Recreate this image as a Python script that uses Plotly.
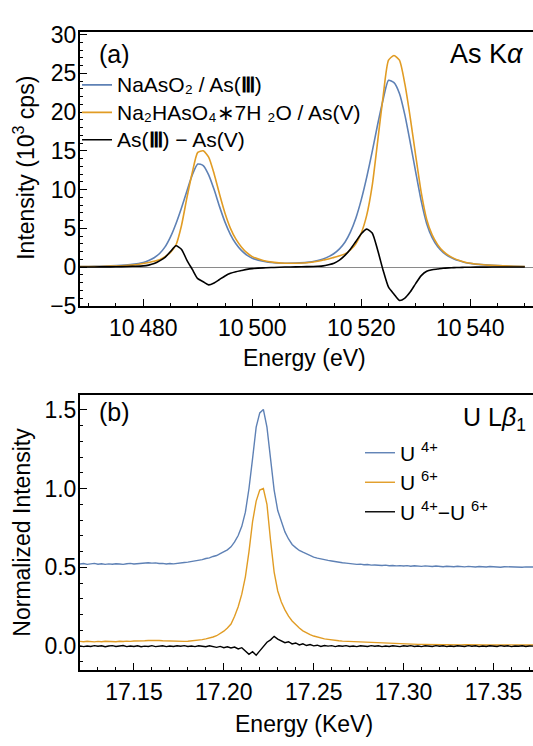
import numpy as np
import plotly.graph_objects as go

# ---------------- Panel (a): As K-alpha ----------------
energy_a = [10468, 10470, 10472, 10474, 10476, 10478,
            10480, 10481, 10482, 10483, 10484, 10485, 10486, 10487, 10488, 10489,
            10490, 10491, 10492, 10493, 10494, 10495, 10496, 10497, 10498, 10499, 10500,
            10502, 10504, 10506, 10508, 10510, 10512,
            10513, 10514, 10515, 10516, 10517, 10518, 10519, 10520, 10521, 10522, 10523,
            10524, 10525, 10526, 10527, 10528, 10529, 10530, 10531, 10532, 10533, 10534,
            10535, 10536, 10537, 10538, 10539, 10540,
            10542, 10544, 10546, 10548, 10550]

as3 = [0.05, 0.08, 0.10, 0.15, 0.22, 0.35,
       0.60, 0.85, 1.20, 1.75, 2.60, 3.90, 5.60, 7.60, 9.80, 11.90,
       13.30, 13.10, 11.90, 10.00, 7.80, 5.80, 4.20, 3.00, 2.15, 1.55, 1.15,
       0.75, 0.55, 0.50, 0.52, 0.60, 0.85,
       1.05, 1.35, 1.75, 2.35, 3.20, 4.50, 6.30, 8.70, 11.60, 14.90, 18.40,
       21.60, 24.10, 23.80, 22.40, 19.60, 16.00, 12.20, 8.50, 5.60, 3.80, 2.65,
       1.90, 1.40, 1.05, 0.80, 0.60, 0.48,
       0.32, 0.22, 0.15, 0.10, 0.07]

as5 = [0.05, 0.08, 0.08, 0.12, 0.17, 0.25,
       0.45, 0.60, 0.75, 0.95, 1.35, 1.90, 2.85, 5.30, 8.90, 12.20,
       14.80, 15.00, 14.20, 12.05, 9.40, 6.95, 5.00, 3.60, 2.60, 1.85, 1.35,
       0.85, 0.60, 0.50, 0.50, 0.55, 0.75,
       0.90, 1.05, 1.25, 1.45, 1.70, 2.20, 3.00, 4.40, 6.70, 10.50, 16.20,
       22.00, 26.70, 27.30, 26.70, 23.60, 19.20, 14.30, 9.60, 6.15, 4.15, 2.90,
       2.05, 1.50, 1.12, 0.85, 0.63, 0.50,
       0.33, 0.22, 0.15, 0.10, 0.07]

as_diff = [0.00, 0.00, 0.02, 0.03, 0.05, 0.10,
           0.15, 0.25, 0.45, 0.80, 1.25, 2.00, 2.75, 2.30, 0.90, -0.30,
           -1.50, -1.90, -2.30, -2.05, -1.60, -1.15, -0.80, -0.60, -0.45, -0.30, -0.20,
           -0.10, -0.05, 0.00, 0.02, 0.05, 0.10,
           0.15, 0.30, 0.50, 0.90, 1.50, 2.30, 3.30, 4.30, 4.90, 4.40, 2.20,
           -0.40, -2.60, -3.50, -4.30, -4.00, -3.20, -2.10, -1.10, -0.55, -0.35, -0.25,
           -0.15, -0.10, -0.07, -0.05, -0.03, -0.02,
           -0.01, 0.00, 0.00, 0.00, 0.00]

# ---------------- Panel (b): U L-beta1 ----------------
E_START_B, E_STEP_B = 17.120, 0.002

u4 = [0.521, 0.524, 0.519, 0.523, 0.525, 0.520, 0.523, 0.519, 0.522, 0.520,
      0.523, 0.521, 0.519, 0.523, 0.525, 0.521, 0.524, 0.527, 0.526, 0.529,
      0.527, 0.528, 0.524, 0.525, 0.521, 0.524, 0.522, 0.526, 0.527, 0.531,
      0.533, 0.536, 0.540, 0.545, 0.549, 0.556, 0.560, 0.569, 0.575, 0.587,
      0.597, 0.611, 0.630, 0.661, 0.702, 0.760, 0.850, 1.000, 1.190, 1.390,
      1.480, 1.502, 1.390, 1.170, 0.990, 0.860, 0.790, 0.725, 0.680, 0.645,
      0.625, 0.607, 0.596, 0.584, 0.576, 0.565, 0.558, 0.552, 0.549, 0.544,
      0.540, 0.535, 0.533, 0.529, 0.527, 0.523, 0.522, 0.519, 0.520, 0.516,
      0.518, 0.514, 0.515, 0.513, 0.512, 0.514, 0.510, 0.512, 0.509, 0.511,
      0.508, 0.511, 0.507, 0.510, 0.508, 0.506, 0.509, 0.507, 0.505, 0.508,
      0.506, 0.504, 0.507, 0.505, 0.504, 0.507, 0.504, 0.503, 0.506, 0.504,
      0.502, 0.505, 0.503, 0.502, 0.505, 0.503, 0.504, 0.501, 0.504, 0.503,
      0.501, 0.504, 0.502, 0.501, 0.503, 0.504, 0.502]

u6 = [0.030, 0.028, 0.031, 0.029, 0.027, 0.030, 0.028, 0.031, 0.029, 0.030,
      0.028, 0.031, 0.029, 0.032, 0.030, 0.033, 0.032, 0.035, 0.034, 0.036,
      0.037, 0.035, 0.036, 0.034, 0.033, 0.031, 0.030, 0.029, 0.031, 0.030,
      0.031, 0.033, 0.035, 0.038, 0.041, 0.046, 0.051, 0.058, 0.066, 0.078,
      0.095, 0.115, 0.140, 0.190, 0.250, 0.330, 0.440, 0.600, 0.790, 0.920,
      0.990, 1.000, 0.900, 0.670, 0.470, 0.350, 0.280, 0.230, 0.190, 0.160,
      0.135, 0.115, 0.097, 0.083, 0.073, 0.064, 0.057, 0.051, 0.046, 0.043,
      0.039, 0.037, 0.034, 0.032, 0.031, 0.028, 0.027, 0.025, 0.024, 0.022,
      0.021, 0.020, 0.019, 0.018, 0.017, 0.016, 0.016, 0.015, 0.014, 0.014,
      0.013, 0.013, 0.012, 0.012, 0.011, 0.011, 0.010, 0.010, 0.010, 0.009,
      0.010, 0.009, 0.009, 0.008, 0.009, 0.008, 0.008, 0.009, 0.008, 0.008,
      0.007, 0.008, 0.008, 0.007, 0.008, 0.007, 0.008, 0.007, 0.007, 0.008,
      0.007, 0.007, 0.008, 0.007, 0.007, 0.008, 0.007]

u_diff = [0.002, -0.003, 0.001, -0.002, 0.003, -0.001, 0.002, -0.004, 0.001, 0.003,
          -0.002, 0.000, 0.004, -0.003, 0.001, -0.002, 0.002, -0.004, 0.000, -0.002,
          0.003, -0.003, -0.001, 0.002, -0.003, 0.001, -0.002, 0.002, -0.001, 0.003,
          -0.002, 0.001, -0.003, 0.002, -0.001, -0.004, 0.002, -0.003, -0.008, -0.002,
          -0.010, -0.004, -0.012, -0.006, -0.018, -0.010, -0.030, -0.052, -0.035, -0.058,
          -0.030, -0.005, 0.025, 0.040, 0.062, 0.045, 0.036, 0.022, 0.028, 0.014,
          0.020, 0.008, 0.015, 0.004, 0.010, 0.002, 0.006, -0.002, 0.004, 0.000,
          0.003, -0.003, 0.002, -0.001, 0.003, -0.002, 0.001, -0.003, 0.002, 0.000,
          -0.002, 0.003, -0.001, 0.002, -0.003, 0.001, -0.002, 0.002, 0.000, -0.003,
          0.002, -0.001, 0.003, -0.002, 0.001, -0.003, 0.002, 0.000, -0.002, 0.003,
          -0.001, 0.002, -0.003, 0.001, -0.002, 0.002, 0.000, -0.002, 0.003, -0.001,
          0.002, -0.003, 0.001, -0.002, 0.002, 0.000, -0.002, 0.003, -0.001, 0.002,
          -0.003, 0.001, -0.001, 0.002, -0.002, 0.001, 0.000]

energy_b = np.round(E_START_B + E_STEP_B * np.arange(len(u4)), 3)

names_a = ["NaAsO₂ / As(<b>Ⅲ</b>)", "Na₂HAsO₄∗7H ₂O / As(V)", "As(<b>Ⅲ</b>) − As(V)"]
names_b = ["U <sup>4+</sup>", "U <sup>6+</sup>", "U <sup>4+</sup>−U <sup>6+</sup>"]

BLUE = "#5E81B5"
ORANGE = "#E19C24"
BLACK = "#000000"
FONT = "Liberation Sans"

def big(t):
    return "<span style='font-size:21px'>" + t + "</span>"

fig = go.Figure()

spl = dict(shape="spline", smoothing=0.6, width=1.6)
for ys, col, nm in zip([as3, as5, as_diff], [BLUE, ORANGE, BLACK], names_a):
    fig.add_trace(go.Scatter(x=energy_a, y=ys, mode="lines", line=dict(color=col, **spl),
                             name=big(nm), xaxis="x", yaxis="y", legend="legend"))
for ys, col, nm in zip([u4, u6, u_diff], [BLUE, ORANGE, BLACK], names_b):
    fig.add_trace(go.Scatter(x=energy_b, y=ys, mode="lines", line=dict(color=col, width=1.4),
                             name=big(nm), xaxis="x2", yaxis="y2", legend="legend2"))

W, H = 533, 746
L = 80

def py(sy):          # screen y -> paper y
    return 1 - sy / H

def px_(sx):         # screen x -> paper x
    return (sx - L) / (W - L)

axis_common = dict(showline=True, linewidth=2, linecolor="black", ticks="inside",
                   tickcolor="black", tickwidth=1, ticklen=7, showgrid=False,
                   tickfont=dict(family=FONT, size=23, color="black"))

fig.update_layout(
    width=W, height=H,
    margin=dict(l=L, r=0, t=0, b=0),
    paper_bgcolor="white", plot_bgcolor="white",
    separators=".\u2009",
    font=dict(family=FONT, color="black"),
    xaxis=dict(domain=[0, 1], anchor="y", range=[10468.4, 10551.5], dtick=20, tick0=10480,
               tickformat=",d", mirror=True,
               minor=dict(ticks="inside", ticklen=3, dtick=5, tick0=10480, tickcolor="black"),
               **axis_common),
    yaxis=dict(domain=[py(305), py(22)], anchor="x", range=[-5.05, 30.3], dtick=5, tick0=0,
               zeroline=True, zerolinecolor="#8a8a8a", zerolinewidth=1, ticklabelstandoff=-3,
               minor=dict(ticks="inside", ticklen=3, dtick=1, tick0=0, tickcolor="black"),
               **axis_common),
    xaxis2=dict(domain=[0, 1], anchor="y2", range=[17.12, 17.372], dtick=0.05, tick0=17.15,
                tickformat=".2f", mirror=True,
                minor=dict(ticks="inside", ticklen=3, dtick=0.01, tick0=17.15, tickcolor="black"),
                **axis_common),
    yaxis2=dict(domain=[py(681), py(397)], anchor="x2", range=[-0.152, 1.592], dtick=0.5, tick0=0,
                tickformat=".1f", zeroline=False, ticklabelstandoff=-3,
                minor=dict(ticks="inside", ticklen=3, dtick=0.1, tick0=0, tickcolor="black"),
                **axis_common),
    # legend font sizes set the row pitch; the visible text size comes from the span
    legend=dict(x=px_(77), y=py(57), xanchor="left", yanchor="top", bgcolor="rgba(0,0,0,0)",
                font=dict(family=FONT, size=18.8, color="black"), tracegroupgap=0, itemwidth=30),
    legend2=dict(x=px_(360), y=py(436), xanchor="left", yanchor="top", bgcolor="rgba(0,0,0,0)",
                 font=dict(family=FONT, size=20.4, color="black"), tracegroupgap=0, itemwidth=30),
    showlegend=True,
)

annotations = [
    dict(text="(a)", x=px_(97), y=py(44), xanchor="left", yanchor="middle", font=dict(size=25)),
    dict(text="As K<i>α</i>", x=px_(526), y=py(44), xanchor="right", yanchor="middle", font=dict(size=27)),
    dict(text="(b)", x=px_(97), y=py(414), xanchor="left", yanchor="middle", font=dict(size=25)),
    dict(text="U L<i>β</i><sub>1</sub>", x=px_(528), y=py(422), xanchor="right", yanchor="middle", font=dict(size=25)),
    dict(text="Intensity (10<sup>3</sup> cps)", x=px_(24), y=py(162), xanchor="center", yanchor="middle",
         textangle=-90, font=dict(size=23)),
    dict(text="Normalized Intensity", x=px_(22), y=py(539), xanchor="center", yanchor="middle",
         textangle=-90, font=dict(size=23)),
    dict(text="Energy (eV)", x=px_(304), y=py(359), xanchor="center", yanchor="middle", font=dict(size=23)),
    dict(text="Energy (KeV)", x=px_(304), y=py(737), xanchor="center", yanchor="middle", font=dict(size=23)),
]
for a in annotations:
    a.update(xref="paper", yref="paper", showarrow=False)
    a["font"].update(family=FONT, color="black")
fig.update_layout(annotations=annotations)

# remove the browser's default 8px body margin so the figure sits at the page origin
fig.write_html("out.html", config={"displayModeBar": False},
               post_script="document.body.style.margin='0';")
